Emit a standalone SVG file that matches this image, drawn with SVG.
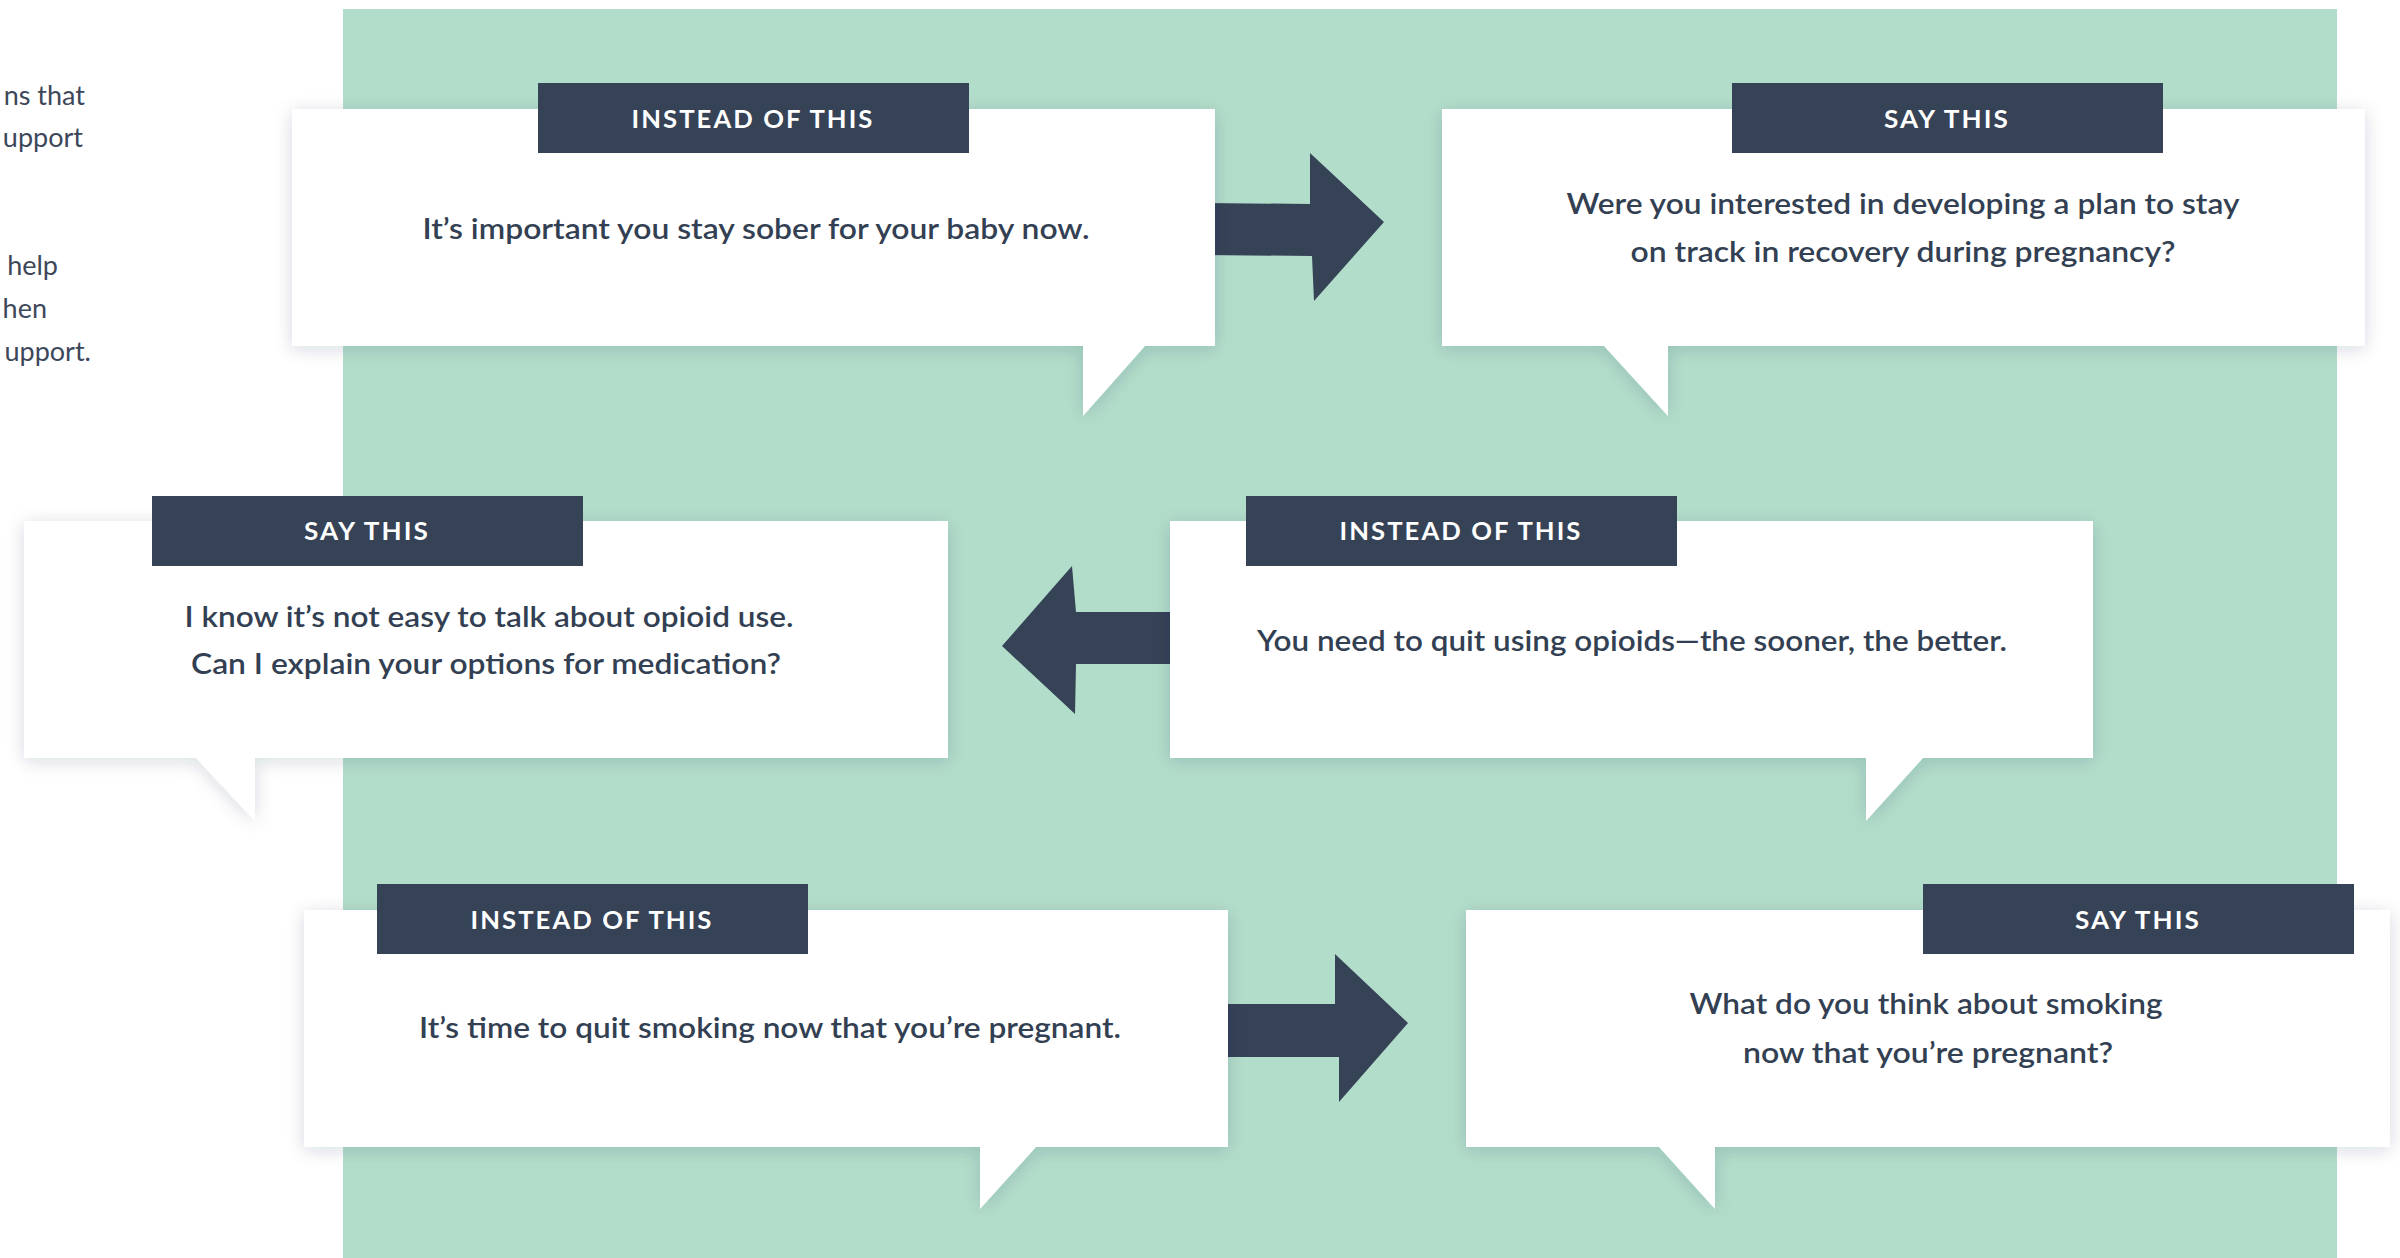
<svg xmlns="http://www.w3.org/2000/svg" width="2400" height="1258" viewBox="0 0 2400 1258">
  <style>
    .bg { fill: #b3ddcb; }
    .card { fill: #ffffff; filter: url(#shadow); }
    .tag { fill: #364357; }
    .tagtext { font-family: Lato, "Liberation Sans", sans-serif; font-weight: 700; font-size: 25px; fill: #ffffff; text-anchor: middle; letter-spacing: 2px; }
    .body { font-family: Lato, "Liberation Sans", sans-serif; font-weight: 600; font-size: 29px; fill: #333f52; text-anchor: middle; }
    .side { font-family: Lato, "Liberation Sans", sans-serif; font-weight: 400; font-size: 27px; fill: #3d475a; text-anchor: end; }
    .arrow { fill: #364357; }
  </style>
  <defs>
    <filter id="shadow" x="-10%" y="-20%" width="120%" height="140%">
      <feDropShadow dx="0" dy="3" stdDeviation="9" flood-color="#1e2a3a" flood-opacity="0.16"/>
    </filter>
  </defs>

  <rect width="2400" height="1258" fill="#ffffff"/>

  <g id="side-paragraph">
    <text class="side" x="85" y="105">ns that</text>
    <text class="side" x="83" y="147">upport</text>
    <text class="side" x="58" y="275">help</text>
    <text class="side" x="47" y="318">hen</text>
    <text class="side" x="91" y="361">upport.</text>
  </g>

  <rect class="bg" x="343" y="9" width="1994" height="1249"/>

  <g id="connectors">
    <path class="arrow" d="M1205 203 L1310 204 L1310 153 L1384 222 L1314 301 L1312 256 L1205 255 Z"/>
    <path class="arrow" d="M1180 612 L1076 612 L1072 566 L1002 646 L1075 714 L1076 664 L1180 664 Z"/>
    <path class="arrow" d="M1218 1004 L1335 1004 L1335 954 L1408 1023 L1339 1102 L1339 1057 L1218 1057 Z"/>
  </g>

  <g id="node-instead-1">
    <path class="card" d="M292 109 H1215 V346 H1145 L1083 416 V346 H292 Z"/>
    <rect class="tag" x="538" y="83" width="431" height="70"/>
    <text class="tagtext" x="753" y="128" textLength="243" lengthAdjust="spacingAndGlyphs">INSTEAD OF THIS</text>
    <text class="body" x="756" y="239" textLength="667" lengthAdjust="spacingAndGlyphs">It’s important you stay sober for your baby now.</text>
  </g>

  <g id="node-say-1">
    <path class="card" d="M1442 109 H2365 V346 H1668 V416 L1604 346 H1442 Z"/>
    <rect class="tag" x="1732" y="83" width="431" height="70"/>
    <text class="tagtext" x="1947" y="128" textLength="126" lengthAdjust="spacingAndGlyphs">SAY THIS</text>
    <text class="body" x="1903" y="214" textLength="673" lengthAdjust="spacingAndGlyphs">Were you interested in developing a plan to stay</text>
    <text class="body" x="1903" y="262" textLength="545" lengthAdjust="spacingAndGlyphs">on track in recovery during pregnancy?</text>
  </g>

  <g id="node-say-2">
    <path class="card" d="M24 521 H948 V758 H255 V821 L196 758 H24 Z"/>
    <rect class="tag" x="152" y="496" width="431" height="70"/>
    <text class="tagtext" x="367" y="540" textLength="126" lengthAdjust="spacingAndGlyphs">SAY THIS</text>
    <text class="body" x="489" y="627" textLength="609" lengthAdjust="spacingAndGlyphs">I know it’s not easy to talk about opioid use.</text>
    <text class="body" x="486" y="674" textLength="590" lengthAdjust="spacingAndGlyphs">Can I explain your options for medication?</text>
  </g>

  <g id="node-instead-2">
    <path class="card" d="M1170 521 H2093 V758 H1923 L1866 821 V758 H1170 Z"/>
    <rect class="tag" x="1246" y="496" width="431" height="70"/>
    <text class="tagtext" x="1461" y="540" textLength="243" lengthAdjust="spacingAndGlyphs">INSTEAD OF THIS</text>
    <text class="body" x="1632" y="651" textLength="750" lengthAdjust="spacingAndGlyphs">You need to quit using opioids—the sooner, the better.</text>
  </g>

  <g id="node-instead-3">
    <path class="card" d="M304 910 H1228 V1147 H1036 L980 1209 V1147 H304 Z"/>
    <rect class="tag" x="377" y="884" width="431" height="70"/>
    <text class="tagtext" x="592" y="929" textLength="243" lengthAdjust="spacingAndGlyphs">INSTEAD OF THIS</text>
    <text class="body" x="770" y="1038" textLength="702" lengthAdjust="spacingAndGlyphs">It’s time to quit smoking now that you’re pregnant.</text>
  </g>

  <g id="node-say-3">
    <path class="card" d="M1466 910 H2390 V1147 H1715 V1209 L1659 1147 H1466 Z"/>
    <rect class="tag" x="1923" y="884" width="431" height="70"/>
    <text class="tagtext" x="2138" y="929" textLength="126" lengthAdjust="spacingAndGlyphs">SAY THIS</text>
    <text class="body" x="1926" y="1014" textLength="473" lengthAdjust="spacingAndGlyphs">What do you think about smoking</text>
    <text class="body" x="1928" y="1063" textLength="370" lengthAdjust="spacingAndGlyphs">now that you’re pregnant?</text>
  </g>
</svg>
